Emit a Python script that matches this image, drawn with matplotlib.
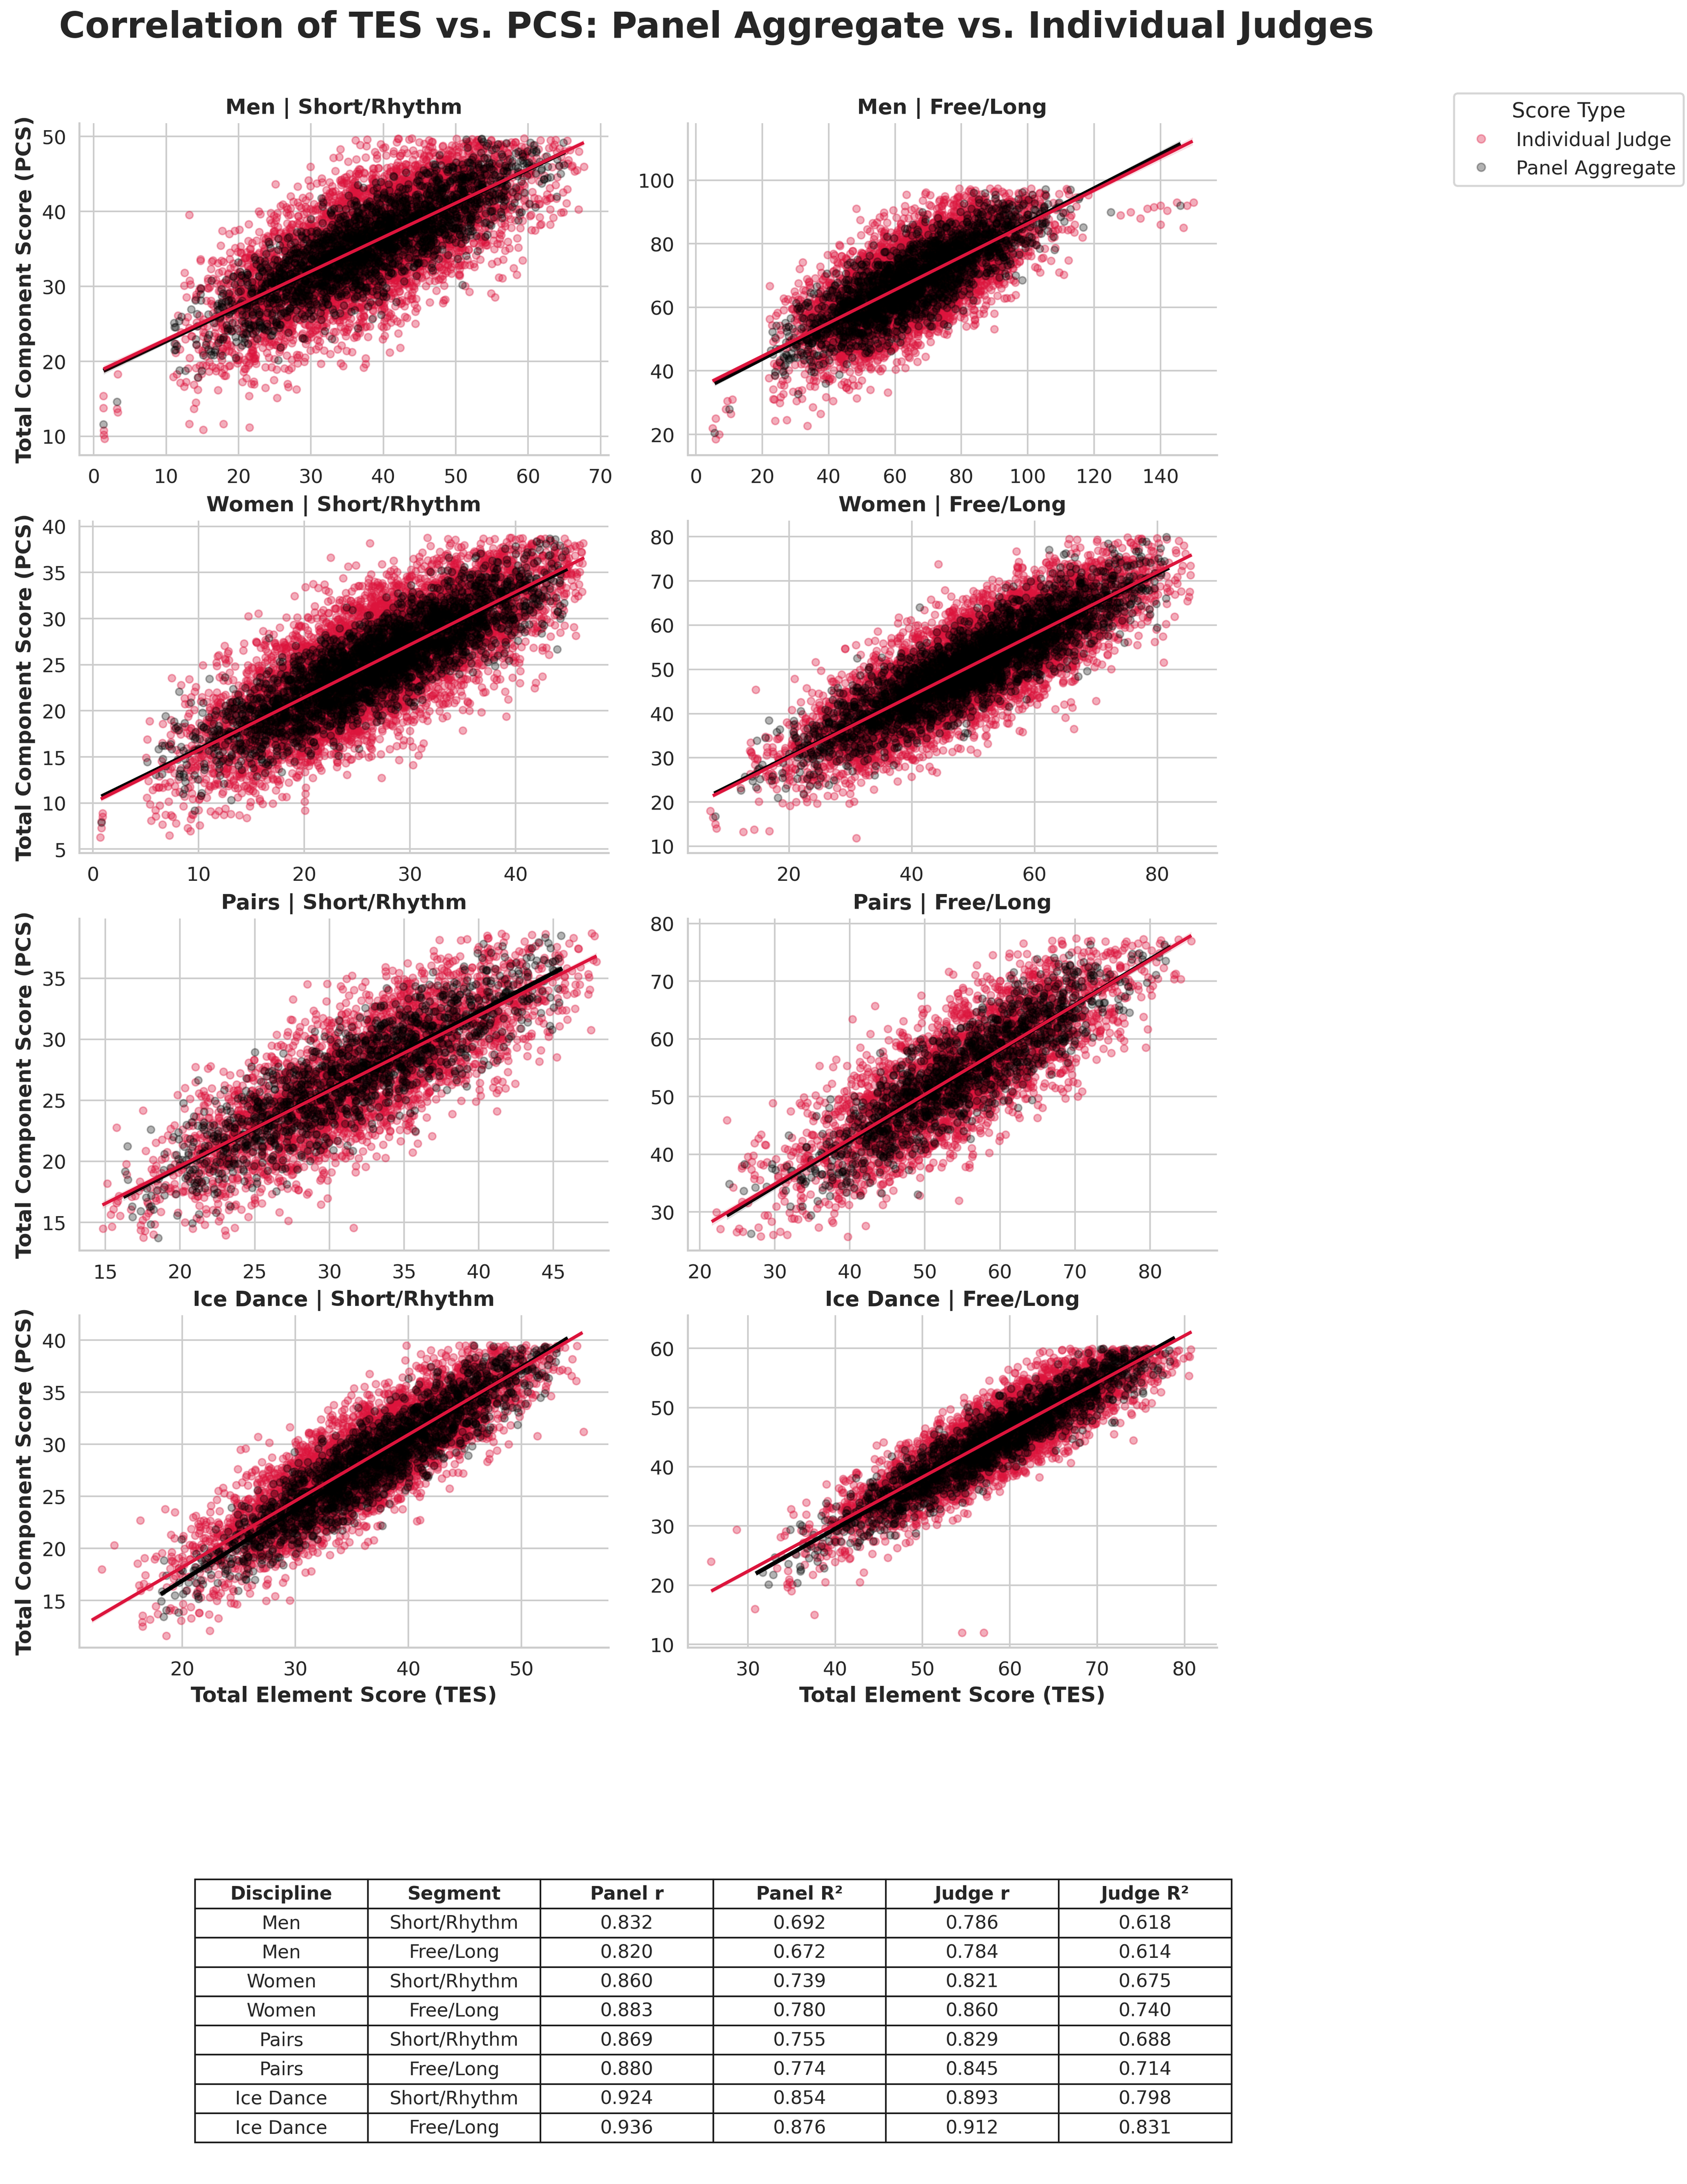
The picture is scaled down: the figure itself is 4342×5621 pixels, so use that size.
import numpy as np
import matplotlib
matplotlib.use("Agg")
import matplotlib.pyplot as plt

# ---------------- data ----------------
disciplines = ["Men", "Men", "Women", "Women", "Pairs", "Pairs", "Ice Dance", "Ice Dance"]
segments = ["Short/Rhythm", "Free/Long"] * 4

panel_r = [0.832, 0.820, 0.860, 0.883, 0.869, 0.880, 0.924, 0.936]
panel_r2 = [0.692, 0.672, 0.739, 0.780, 0.755, 0.774, 0.854, 0.876]
judge_r = [0.786, 0.784, 0.821, 0.860, 0.829, 0.845, 0.893, 0.912]
judge_r2 = [0.618, 0.614, 0.675, 0.740, 0.688, 0.714, 0.798, 0.831]

# TES cloud (centre, spread, bounds) for each facet
tes_mean = [38, 66, 27, 50, 32, 55, 37, 59]
tes_sd = [11, 17, 8, 13, 6.5, 10.5, 7.5, 9.0]
tes_lo = [11, 22, 5, 12, 14.8, 21.6, 16, 30]
tes_hi = [67.7, 125, 46.5, 85.6, 47.9, 85.5, 55.4, 80.8]
panel_tes_lo = [11, 22, 5, 12, 16.2, 23.6, 18.1, 30.9]
panel_tes_hi = [65.1, 125, 44.9, 81.9, 45.6, 82.8, 54.1, 78.9]
pcs_cap = [49.8, 97.5, 38.8, 80.0, 38.7, 77.5, 39.6, 60.0]
pcs_floor = [9.5, 17.0, 6.0, 11.0, 13.5, 25.0, 11.5, 11.5]
# visual vertical spread of the judge cloud relative to the r-implied spread
judge_spread = [1.3, 1.3, 1.2, 1.2, 1.15, 1.15, 1.15, 1.15]
n_judge = [5200, 5200, 7000, 7000, 3200, 3200, 4500, 4500]
n_panel = [2200, 2200, 3000, 3000, 1300, 1300, 1900, 1900]

# regression lines (x0, y0, x1, y1)
judge_line = [(1.35, 18.98, 67.7, 49.18), (5.0, 36.8, 149.7, 112.3),
              (0.74, 10.43, 46.5, 36.6), (7.6, 21.4, 85.6, 75.9),
              (14.8, 16.42, 47.9, 36.82), (21.6, 28.33, 85.5, 77.94),
              (12.0, 13.1, 55.4, 40.74), (25.8, 19.0, 80.8, 62.8)]
panel_line = [(1.35, 18.75, 65.1, 47.95), (5.6, 36.1, 146.1, 111.4),
              (0.8, 10.7, 44.9, 35.4), (7.85, 21.9, 81.9, 73.0),
              (16.2, 17.08, 45.6, 35.81), (23.6, 29.4, 82.8, 76.0),
              (18.1, 15.6, 54.1, 40.2), (30.9, 21.96, 78.9, 61.8)]

# isolated points visible in the reference
judge_extra_x = [
    [1.35, 1.35, 1.4, 1.4, 1.5, 3.2, 3.3, 3.3, 21.5, 67.7, 66.0, 67.0],
    [5, 6, 7, 6, 9, 11, 9.5, 10.5, 128, 131, 134, 136, 138, 140, 142, 145, 148, 150, 140, 147],
    [0.7, 0.8, 0.8, 0.9, 0.9],
    [7.2, 7.6, 8.0, 8.2, 31.0],
    [],
    [],
    [12.9, 14.0, 16.3, 55.5],
    [25.8, 28.7, 30.8, 37.6, 54.5, 57.0, 35.0],
]
judge_extra_y = [
    [15.4, 13.8, 10.8, 10.2, 9.7, 13.7, 13.2, 18.3, 11.2, 46.0, 46.0, 48.0],
    [22, 25, 20, 18.5, 28, 31, 30.5, 26.5, 89, 90, 88, 91, 91.5, 92, 90.5, 93, 92, 93, 86, 85],
    [6.3, 7.3, 8.0, 8.5, 8.9],
    [18.0, 16.5, 15.0, 14.0, 11.8],
    [],
    [],
    [18.0, 20.3, 22.7, 31.2],
    [24.0, 29.4, 16.0, 15.0, 12.0, 12.0, 19.0],
]
panel_extra_x = [[1.35, 3.2, 65.0], [5.6, 10.0, 146.0, 125.0], [0.8], [8.0], [], [], [], []]
panel_extra_y = [[11.6, 14.6, 46.2], [20.5, 28.0, 92.0, 90.0], [7.9], [16.8], [], [], [], []]

# axes limits and ticks
x_limits = [(-2.0, 71.1), (-2.5, 157.0), (-1.3, 48.8), (3.5, 89.7),
            (13.25, 48.7), (18.4, 88.9), (10.9, 57.7), (23.1, 83.7)]
y_limits = [(7.5, 51.8), (13.5, 118.0), (4.6, 40.6), (8.5, 83.6),
            (12.7, 39.9), (23.35, 80.9), (10.5, 42.4), (9.5, 65.6)]
x_ticks = [[0, 10, 20, 30, 40, 50, 60, 70], [0, 20, 40, 60, 80, 100, 120, 140],
           [0, 10, 20, 30, 40], [20, 40, 60, 80], [15, 20, 25, 30, 35, 40, 45],
           [20, 30, 40, 50, 60, 70, 80], [20, 30, 40, 50], [30, 40, 50, 60, 70, 80]]
y_ticks = [[10, 20, 30, 40, 50], [20, 40, 60, 80, 100], [5, 10, 15, 20, 25, 30, 35, 40],
           [10, 20, 30, 40, 50, 60, 70, 80], [15, 20, 25, 30, 35], [30, 40, 50, 60, 70, 80],
           [15, 20, 25, 30, 35, 40], [10, 20, 30, 40, 50, 60]]

table_cols = ["Discipline", "Segment", "Panel r", "Panel R²", "Judge r", "Judge R²"]

JUDGE_C = "#DC143C"
PANEL_C = "#000000"
TXT = "#262626"
GRID = "#cccccc"

plt.rcParams.update({
    "font.family": ["DejaVu Sans"],
    "text.color": TXT,
    "axes.labelcolor": TXT,
    "xtick.color": TXT,
    "ytick.color": TXT,
    "axes.edgecolor": GRID,
    "grid.color": GRID,
})

rng = np.random.default_rng(11)


def make_cloud(n, mean, sd, lo, hi, line, r, spread, cap, floor, ex_x, ex_y):
    x = rng.normal(mean, sd, n * 4)
    x = x[(x >= lo) & (x <= hi)][:n]
    x0, y0, x1, y1 = line
    b = (y1 - y0) / (x1 - x0)
    a = y0 - b * x0
    esd = spread * b * x.std() * np.sqrt(1 - r ** 2) / r
    y = a + b * x + rng.normal(0, esd, x.size)
    keep = (y <= cap) & (y >= floor)
    x, y = x[keep], y[keep]
    x = np.concatenate([x, np.array(ex_x, float)])
    y = np.concatenate([y, np.array(ex_y, float)])
    return x, y, a, b, esd


fig = plt.figure(figsize=(4342 / 300, 5622 / 300), dpi=300)

col_left = [0.047, 0.4076]
row_bottom = [0.7915, 0.6094, 0.4274, 0.2457]
ax_w, ax_h = 0.3137, 0.152

for i in range(8):
    r_i, c_i = divmod(i, 2)
    ax = fig.add_axes([col_left[c_i], row_bottom[r_i], ax_w, ax_h])
    jx, jy, ja, jb, jsd = make_cloud(n_judge[i], tes_mean[i], tes_sd[i], tes_lo[i], tes_hi[i],
                                     judge_line[i], judge_r[i], judge_spread[i], pcs_cap[i],
                                     pcs_floor[i], judge_extra_x[i], judge_extra_y[i])
    px, py, pa, pb, psd = make_cloud(n_panel[i], tes_mean[i], tes_sd[i], panel_tes_lo[i],
                                     panel_tes_hi[i], panel_line[i], panel_r[i], 1.0,
                                     pcs_cap[i], pcs_floor[i], panel_extra_x[i],
                                     panel_extra_y[i])
    ax.scatter(jx, jy, s=20, color=JUDGE_C, alpha=0.35, linewidths=0.9, zorder=2)
    ax.scatter(px, py, s=20, color=PANEL_C, alpha=0.30, linewidths=0.9, zorder=3)

    for (line, a, b, sd, xs, col, lw, z) in [
        (panel_line[i], pa, pb, psd, px, PANEL_C, 2.6, 4),
        (judge_line[i], ja, jb, jsd, jx, JUDGE_C, 2.0, 5),
    ]:
        x0, y0, x1, y1 = line
        gx = np.linspace(x0, x1, 100)
        gy = a + b * gx
        se = sd * np.sqrt(1 / xs.size + (gx - xs.mean()) ** 2 / ((xs - xs.mean()) ** 2).sum())
        ax.fill_between(gx, gy - 1.96 * se, gy + 1.96 * se, color=col, alpha=0.15,
                        linewidth=0, zorder=z)
        ax.plot(gx, gy, color=col, lw=lw, zorder=z, solid_capstyle="butt")

    ax.set_xlim(x_limits[i])
    ax.set_ylim(y_limits[i])
    ax.set_xticks(x_ticks[i])
    ax.set_yticks(y_ticks[i])
    ax.grid(True, color=GRID, lw=1.0, zorder=0)
    ax.set_axisbelow(True)
    for s in ["top", "right"]:
        ax.spines[s].set_visible(False)
    for s in ["left", "bottom"]:
        ax.spines[s].set_color(GRID)
        ax.spines[s].set_linewidth(1.25)
    ax.tick_params(axis="both", length=0, pad=8, labelsize=12)
    ax.set_title(f"{disciplines[i]} | {segments[i]}", fontsize=13, fontweight="bold",
                 color=TXT, pad=6)
    if c_i == 0:
        ax.set_ylabel("Total Component Score (PCS)", fontsize=13, fontweight="bold")
    if r_i == 3:
        ax.set_xlabel("Total Element Score (TES)", fontsize=13, fontweight="bold")

fig.text(0.035, 0.9875, "Correlation of TES vs. PCS: Panel Aggregate vs. Individual Judges",
         ha="left", va="center", fontsize=22, fontweight="bold", color=TXT)

h1 = plt.Line2D([], [], ls="", marker="o", markersize=5, color=JUDGE_C, alpha=0.35, mew=0.9)
h2 = plt.Line2D([], [], ls="", marker="o", markersize=5, color=PANEL_C, alpha=0.30, mew=0.9)
leg = fig.legend([h1, h2], ["Individual Judge", "Panel Aggregate"], title="Score Type",
                 loc="upper left", bbox_to_anchor=(0.856, 0.9616), fontsize=12,
                 title_fontsize=13, frameon=True, fancybox=True, edgecolor=GRID)
leg.get_frame().set_linewidth(1.25)

# summary table
cell_text = [[disciplines[i], segments[i], f"{panel_r[i]:.3f}", f"{panel_r2[i]:.3f}",
              f"{judge_r[i]:.3f}", f"{judge_r2[i]:.3f}"] for i in range(8)]
tax = fig.add_axes([0.1156, 0.019, 0.6144, 0.1205])
tax.axis("off")
tbl = tax.table(cellText=cell_text, colLabels=table_cols, cellLoc="center",
                bbox=[0, 0, 1, 1])
tbl.auto_set_font_size(False)
for (rr, cc), cell in tbl.get_celld().items():
    cell.set_edgecolor("#1a1a1a")
    cell.set_linewidth(1.0)
    cell.get_text().set_fontsize(11.5)
    cell.get_text().set_color(TXT)
    if rr == 0:
        cell.get_text().set_fontweight("bold")

fig.savefig("out.png", dpi=300)
